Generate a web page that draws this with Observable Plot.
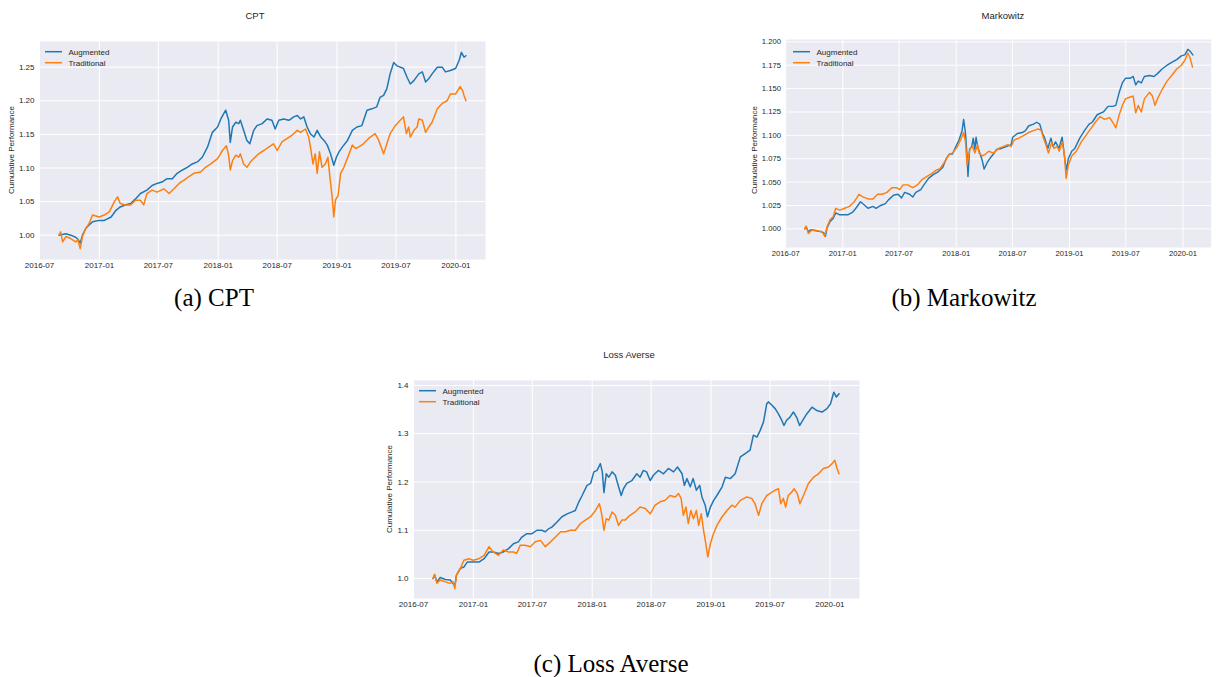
<!DOCTYPE html>
<html><head><meta charset="utf-8">
<script src="https://cdn.jsdelivr.net/npm/d3@7"></script>
<script src="https://cdn.jsdelivr.net/npm/@observablehq/plot@0.6"></script>
<style>
html,body{margin:0;padding:0;background:#fff;}
body{width:1225px;height:677px;overflow:hidden;position:relative;font-family:"Liberation Sans",Arial,sans-serif;}
.panel{position:absolute;}
.ttl{position:absolute;font-size:9.5px;color:#262626;transform:translate(-50%,-50%);white-space:nowrap;line-height:1;}
.ylab{position:absolute;font-size:8px;color:#262626;transform:translate(-50%,-50%) rotate(-90deg);white-space:nowrap;line-height:1;}
.cap{position:absolute;font-family:"Liberation Serif",serif;font-size:25px;color:#000;transform:translate(-50%,-50%);white-space:nowrap;line-height:1;}
.leg{position:absolute;overflow:visible;}
</style></head><body>
<script>
// ---------- tick labels ----------
const xTickDates = ["2016-07-01","2017-01-01","2017-07-01","2018-01-01","2018-07-01","2019-01-01","2019-07-01","2020-01-01"];
const cptYTicks = [1.00,1.05,1.10,1.15,1.20,1.25];
const mkYTicks = [1.000,1.025,1.050,1.075,1.100,1.125,1.150,1.175,1.200];
const laYTicks = [1.0,1.1,1.2,1.3,1.4];
const seriesNames = ["Augmented","Traditional"];
const panelTitles = ["CPT","Markowitz","Loss Averse"];
const captions = ["(a) CPT","(b) Markowitz","(c) Loss Averse"];

// ---------- (a) CPT ----------
const cptAugDates = ["2016-08-30","2016-09-10","2016-09-20","2016-10-05","2016-10-20","2016-10-27","2016-11-03","2016-11-10","2016-11-20","2016-11-30","2016-12-11","2016-12-31","2017-01-16","2017-02-06","2017-02-21","2017-03-06","2017-03-21","2017-04-07","2017-04-22","2017-05-07","2017-05-27","2017-06-12","2017-06-27","2017-07-12","2017-07-28","2017-08-13","2017-08-28","2017-09-13","2017-09-28","2017-10-13","2017-10-29","2017-11-13","2017-11-29","2017-12-14","2017-12-30","2018-01-09","2018-01-24","2018-02-02","2018-02-07","2018-02-14","2018-02-24","2018-03-05","2018-03-10","2018-03-20","2018-03-30","2018-04-08","2018-04-20","2018-04-30","2018-05-16","2018-05-31","2018-06-15","2018-06-25","2018-07-06","2018-07-21","2018-08-06","2018-08-21","2018-09-01","2018-09-11","2018-09-21","2018-10-01","2018-10-11","2018-10-22","2018-11-01","2018-11-12","2018-11-22","2018-12-02","2018-12-12","2018-12-22","2018-12-30","2019-01-07","2019-01-17","2019-02-02","2019-02-17","2019-03-03","2019-03-18","2019-04-03","2019-04-18","2019-05-03","2019-05-13","2019-05-24","2019-06-03","2019-06-13","2019-06-24","2019-07-04","2019-07-14","2019-07-24","2019-08-04","2019-08-14","2019-08-25","2019-09-09","2019-09-20","2019-09-30","2019-10-10","2019-10-20","2019-11-05","2019-11-20","2019-11-30","2019-12-15","2019-12-31","2020-01-11","2020-01-18","2020-01-26","2020-02-01"];
const cptAugValues = [1.000,1.001,1.002,1.000,0.997,0.994,0.988,1.000,1.010,1.015,1.020,1.022,1.022,1.027,1.037,1.042,1.045,1.047,1.054,1.062,1.067,1.074,1.077,1.079,1.084,1.084,1.092,1.097,1.101,1.106,1.109,1.116,1.131,1.153,1.161,1.173,1.186,1.171,1.138,1.161,1.168,1.166,1.171,1.156,1.141,1.136,1.156,1.163,1.166,1.173,1.171,1.158,1.171,1.173,1.171,1.176,1.178,1.173,1.176,1.161,1.151,1.146,1.156,1.146,1.141,1.134,1.121,1.104,1.116,1.124,1.131,1.141,1.156,1.161,1.163,1.186,1.188,1.191,1.205,1.208,1.218,1.240,1.257,1.252,1.250,1.248,1.235,1.225,1.230,1.240,1.243,1.228,1.233,1.240,1.250,1.250,1.243,1.245,1.248,1.260,1.272,1.265,1.267];
const cptTradDates = ["2016-08-30","2016-09-04","2016-09-10","2016-09-20","2016-10-05","2016-10-20","2016-10-27","2016-11-03","2016-11-10","2016-11-20","2016-11-30","2016-12-11","2016-12-31","2017-01-16","2017-02-01","2017-02-16","2017-02-26","2017-03-06","2017-03-21","2017-04-07","2017-04-22","2017-05-07","2017-05-17","2017-05-27","2017-06-12","2017-06-27","2017-07-18","2017-08-03","2017-08-18","2017-09-03","2017-09-18","2017-10-03","2017-10-18","2017-11-08","2017-11-23","2017-12-09","2017-12-30","2018-01-14","2018-01-26","2018-02-02","2018-02-07","2018-02-14","2018-02-24","2018-03-05","2018-03-10","2018-03-20","2018-03-30","2018-04-10","2018-04-20","2018-05-05","2018-05-21","2018-06-05","2018-06-20","2018-07-01","2018-07-16","2018-08-01","2018-08-16","2018-09-01","2018-09-11","2018-09-26","2018-10-06","2018-10-13","2018-10-19","2018-10-26","2018-11-01","2018-11-08","2018-11-16","2018-11-26","2018-12-04","2018-12-10","2018-12-17","2018-12-22","2018-12-27","2019-01-04","2019-01-12","2019-01-22","2019-02-07","2019-02-17","2019-02-27","2019-03-08","2019-03-23","2019-04-08","2019-04-28","2019-05-09","2019-05-24","2019-06-03","2019-06-13","2019-06-29","2019-07-14","2019-07-24","2019-08-02","2019-08-09","2019-08-14","2019-08-25","2019-09-04","2019-09-09","2019-09-20","2019-09-30","2019-10-10","2019-10-20","2019-11-05","2019-11-20","2019-12-05","2019-12-15","2019-12-31","2020-01-14","2020-01-22","2020-01-26","2020-02-01"];
const cptTradValues = [1.000,1.005,0.990,0.998,0.995,0.990,0.993,0.980,0.998,1.010,1.017,1.030,1.027,1.030,1.035,1.050,1.057,1.047,1.045,1.045,1.052,1.052,1.045,1.062,1.067,1.064,1.069,1.062,1.069,1.077,1.082,1.087,1.092,1.094,1.101,1.106,1.114,1.126,1.133,1.119,1.097,1.111,1.119,1.116,1.121,1.106,1.101,1.109,1.114,1.121,1.126,1.131,1.136,1.126,1.139,1.144,1.149,1.156,1.153,1.158,1.146,1.126,1.106,1.121,1.092,1.124,1.101,1.106,1.116,1.087,1.057,1.027,1.052,1.059,1.092,1.101,1.121,1.134,1.129,1.131,1.136,1.144,1.151,1.141,1.121,1.136,1.151,1.163,1.171,1.176,1.151,1.161,1.146,1.156,1.161,1.173,1.171,1.153,1.161,1.168,1.188,1.196,1.200,1.210,1.210,1.221,1.215,1.208,1.200];

// ---------- (b) Markowitz ----------
const mkAugDates = ["2016-08-31","2016-09-05","2016-09-12","2016-09-20","2016-10-06","2016-10-21","2016-10-31","2016-11-06","2016-11-11","2016-11-21","2016-12-01","2016-12-09","2016-12-22","2017-01-02","2017-01-17","2017-02-02","2017-02-12","2017-02-27","2017-03-13","2017-03-23","2017-04-08","2017-04-18","2017-05-03","2017-05-18","2017-05-28","2017-06-13","2017-06-28","2017-07-09","2017-07-19","2017-08-04","2017-08-14","2017-08-24","2017-09-09","2017-09-19","2017-10-04","2017-10-19","2017-11-04","2017-11-19","2017-11-30","2017-12-10","2017-12-20","2017-12-31","2018-01-10","2018-01-20","2018-01-25","2018-01-31","2018-02-05","2018-02-08","2018-02-13","2018-02-20","2018-02-25","2018-03-02","2018-03-06","2018-03-11","2018-03-26","2018-04-01","2018-04-11","2018-04-21","2018-05-01","2018-05-11","2018-05-27","2018-06-11","2018-06-27","2018-07-02","2018-07-17","2018-08-02","2018-08-12","2018-08-22","2018-09-07","2018-09-17","2018-09-27","2018-10-06","2018-10-13","2018-10-23","2018-11-02","2018-11-09","2018-11-17","2018-11-28","2018-12-08","2018-12-13","2018-12-18","2018-12-23","2018-12-28","2019-01-08","2019-01-18","2019-02-03","2019-02-18","2019-03-05","2019-03-15","2019-03-31","2019-04-20","2019-05-05","2019-05-20","2019-05-30","2019-06-10","2019-06-20","2019-06-30","2019-07-15","2019-07-25","2019-08-02","2019-08-10","2019-08-20","2019-08-30","2019-09-15","2019-09-30","2019-10-11","2019-10-26","2019-11-11","2019-11-26","2019-12-12","2019-12-27","2020-01-07","2020-01-17","2020-01-24","2020-02-02"];
const mkAugValues = [1.000,1.002,0.997,0.999,0.998,0.997,0.996,0.992,1.001,1.008,1.011,1.017,1.015,1.015,1.015,1.018,1.022,1.029,1.025,1.022,1.024,1.022,1.025,1.027,1.031,1.036,1.037,1.033,1.039,1.037,1.034,1.039,1.042,1.047,1.054,1.058,1.061,1.066,1.075,1.080,1.080,1.088,1.095,1.105,1.117,1.102,1.078,1.056,1.085,1.088,1.097,1.085,1.098,1.088,1.073,1.064,1.071,1.076,1.080,1.085,1.086,1.088,1.090,1.098,1.102,1.103,1.105,1.110,1.112,1.114,1.112,1.102,1.097,1.086,1.097,1.088,1.093,1.086,1.098,1.085,1.071,1.063,1.075,1.083,1.086,1.097,1.105,1.112,1.114,1.122,1.125,1.131,1.131,1.132,1.146,1.156,1.161,1.161,1.163,1.154,1.158,1.156,1.163,1.164,1.163,1.166,1.171,1.175,1.178,1.181,1.185,1.186,1.192,1.190,1.186];
const mkTradDates = ["2016-08-31","2016-09-05","2016-09-12","2016-09-25","2016-10-11","2016-10-26","2016-11-04","2016-11-11","2016-11-21","2016-12-01","2016-12-09","2016-12-22","2017-01-07","2017-01-22","2017-02-07","2017-02-22","2017-03-08","2017-03-23","2017-04-08","2017-04-23","2017-05-08","2017-05-23","2017-06-08","2017-06-23","2017-07-03","2017-07-14","2017-07-29","2017-08-14","2017-08-29","2017-09-14","2017-09-29","2017-10-14","2017-10-30","2017-11-09","2017-11-24","2017-12-10","2017-12-20","2018-01-05","2018-01-15","2018-01-25","2018-01-31","2018-02-05","2018-02-10","2018-02-15","2018-02-23","2018-03-02","2018-03-11","2018-03-16","2018-03-26","2018-04-06","2018-04-16","2018-05-01","2018-05-17","2018-06-01","2018-06-16","2018-06-27","2018-07-07","2018-07-22","2018-08-07","2018-08-22","2018-09-07","2018-09-22","2018-10-02","2018-10-09","2018-10-17","2018-10-25","2018-11-05","2018-11-12","2018-11-22","2018-11-29","2018-12-08","2018-12-15","2018-12-21","2018-12-28","2019-01-08","2019-01-23","2019-02-08","2019-02-23","2019-03-10","2019-03-25","2019-04-09","2019-04-24","2019-05-10","2019-05-20","2019-05-30","2019-06-10","2019-06-20","2019-06-30","2019-07-15","2019-07-25","2019-08-02","2019-08-10","2019-08-20","2019-08-30","2019-09-15","2019-09-25","2019-10-03","2019-10-11","2019-10-26","2019-11-11","2019-11-26","2019-12-12","2019-12-27","2020-01-07","2020-01-17","2020-01-24","2020-02-01"];
const mkTradValues = [1.000,1.003,0.995,0.999,0.998,0.997,0.992,1.002,1.010,1.013,1.022,1.020,1.022,1.024,1.029,1.037,1.034,1.032,1.032,1.037,1.037,1.039,1.044,1.044,1.042,1.047,1.047,1.044,1.047,1.053,1.056,1.059,1.063,1.064,1.071,1.080,1.081,1.088,1.095,1.103,1.093,1.068,1.078,1.086,1.088,1.081,1.090,1.081,1.078,1.080,1.083,1.081,1.086,1.088,1.090,1.088,1.095,1.097,1.100,1.103,1.105,1.107,1.105,1.097,1.090,1.081,1.093,1.086,1.088,1.083,1.093,1.081,1.054,1.068,1.078,1.083,1.093,1.100,1.107,1.114,1.120,1.117,1.119,1.114,1.108,1.122,1.132,1.139,1.141,1.142,1.124,1.132,1.125,1.139,1.146,1.142,1.132,1.139,1.149,1.158,1.164,1.171,1.175,1.180,1.188,1.183,1.173];

// ---------- (c) Loss Averse ----------
const laAugDates = ["2016-08-30","2016-09-04","2016-09-11","2016-09-21","2016-10-07","2016-10-22","2016-10-30","2016-11-05","2016-11-10","2016-11-22","2016-12-03","2016-12-13","2016-12-31","2017-01-18","2017-02-03","2017-02-18","2017-03-03","2017-03-19","2017-04-03","2017-04-19","2017-05-04","2017-05-19","2017-05-30","2017-06-14","2017-06-30","2017-07-15","2017-07-30","2017-08-10","2017-08-20","2017-08-31","2017-09-15","2017-09-30","2017-10-16","2017-10-31","2017-11-10","2017-11-21","2017-12-01","2017-12-16","2017-12-27","2018-01-06","2018-01-16","2018-01-26","2018-02-01","2018-02-06","2018-02-13","2018-02-21","2018-03-03","2018-03-13","2018-03-23","2018-03-31","2018-04-07","2018-04-17","2018-05-03","2018-05-18","2018-05-28","2018-06-07","2018-06-17","2018-06-28","2018-07-08","2018-07-23","2018-08-08","2018-08-23","2018-09-08","2018-09-20","2018-10-04","2018-10-11","2018-10-19","2018-10-29","2018-11-07","2018-11-17","2018-11-27","2018-12-04","2018-12-14","2018-12-21","2018-12-30","2019-01-09","2019-01-19","2019-02-04","2019-02-14","2019-03-01","2019-03-16","2019-04-01","2019-04-16","2019-05-01","2019-05-11","2019-05-22","2019-06-01","2019-06-11","2019-06-21","2019-06-26","2019-07-07","2019-07-17","2019-07-27","2019-08-06","2019-08-13","2019-08-21","2019-08-31","2019-09-11","2019-09-21","2019-09-30","2019-10-10","2019-10-22","2019-11-07","2019-11-22","2019-12-08","2019-12-23","2020-01-03","2020-01-13","2020-01-21","2020-01-29"];
const laAugValues = [1.000,1.007,0.993,1.002,0.998,0.997,0.990,0.986,1.007,1.021,1.024,1.034,1.034,1.034,1.041,1.055,1.055,1.052,1.055,1.062,1.072,1.076,1.086,1.093,1.093,1.100,1.100,1.097,1.103,1.107,1.117,1.128,1.134,1.138,1.141,1.159,1.172,1.193,1.197,1.221,1.224,1.238,1.221,1.178,1.217,1.210,1.221,1.214,1.190,1.172,1.186,1.197,1.203,1.217,1.210,1.224,1.221,1.203,1.214,1.224,1.217,1.228,1.221,1.231,1.217,1.193,1.207,1.190,1.207,1.183,1.193,1.169,1.152,1.128,1.148,1.162,1.172,1.190,1.210,1.207,1.217,1.252,1.259,1.266,1.297,1.293,1.307,1.324,1.362,1.366,1.359,1.352,1.341,1.328,1.317,1.328,1.334,1.345,1.334,1.317,1.328,1.341,1.355,1.348,1.345,1.352,1.362,1.386,1.376,1.383];
const laTradDates = ["2016-08-30","2016-09-04","2016-09-11","2016-09-21","2016-10-07","2016-10-22","2016-10-30","2016-11-05","2016-11-10","2016-11-22","2016-12-03","2016-12-18","2016-12-31","2017-01-18","2017-02-03","2017-02-18","2017-03-03","2017-03-19","2017-04-03","2017-04-19","2017-05-04","2017-05-14","2017-05-25","2017-06-09","2017-06-25","2017-07-10","2017-07-26","2017-08-10","2017-08-26","2017-09-10","2017-09-26","2017-10-11","2017-10-26","2017-11-10","2017-11-26","2017-12-11","2017-12-27","2018-01-11","2018-01-23","2018-01-30","2018-02-06","2018-02-13","2018-02-21","2018-03-03","2018-03-13","2018-03-23","2018-04-02","2018-04-12","2018-04-27","2018-05-13","2018-05-28","2018-06-13","2018-06-28","2018-07-13","2018-07-29","2018-08-13","2018-08-28","2018-09-13","2018-09-23","2018-10-01","2018-10-08","2018-10-16","2018-10-23","2018-10-31","2018-11-08","2018-11-17","2018-11-24","2018-12-02","2018-12-09","2018-12-16","2018-12-22","2018-12-30","2019-01-07","2019-01-19","2019-02-04","2019-02-19","2019-03-06","2019-03-16","2019-04-01","2019-04-21","2019-05-06","2019-05-16","2019-05-27","2019-06-06","2019-06-21","2019-07-07","2019-07-17","2019-07-27","2019-08-03","2019-08-11","2019-08-18","2019-08-26","2019-09-06","2019-09-13","2019-09-23","2019-10-01","2019-10-12","2019-10-27","2019-11-12","2019-11-27","2019-12-12","2019-12-28","2020-01-08","2020-01-16","2020-01-23","2020-01-29"];
const laTradValues = [1.000,1.009,0.990,0.997,0.993,0.990,0.993,0.979,1.007,1.021,1.038,1.041,1.038,1.041,1.048,1.066,1.055,1.048,1.059,1.055,1.055,1.052,1.069,1.069,1.066,1.076,1.079,1.066,1.076,1.086,1.097,1.097,1.100,1.100,1.114,1.121,1.128,1.141,1.155,1.134,1.100,1.124,1.121,1.138,1.131,1.110,1.121,1.121,1.131,1.138,1.148,1.145,1.134,1.152,1.159,1.162,1.172,1.169,1.176,1.166,1.131,1.148,1.114,1.141,1.124,1.141,1.110,1.134,1.100,1.072,1.045,1.072,1.090,1.110,1.128,1.141,1.152,1.148,1.162,1.169,1.166,1.155,1.131,1.155,1.172,1.179,1.183,1.186,1.155,1.166,1.148,1.172,1.179,1.186,1.176,1.155,1.172,1.197,1.210,1.217,1.228,1.231,1.238,1.245,1.228,1.217];

// ---------- build ----------
const AUG = "#1f77b4", TRAD = "#ff7f0e", TXT = "#262626";
const xDomain = [new Date("2016-07-01"), new Date("2020-04-01")];
const xTicks = xTickDates.map(d => new Date(d));
const toRows = (dates, vals) => dates.map((d, i) => ({date: new Date(d), value: vals[i]}));

const PW = 446, PH = 218; // plot frame size
function addPanel(o) {
  const ML = 39, MT = 41;
  const chart = Plot.plot({
    width: ML + PW + 15, height: MT + PH + 21,
    marginLeft: ML, marginTop: MT, marginRight: 15, marginBottom: 21,
    style: {background: "transparent", fontSize: "8px", fontFamily: "'Liberation Sans', Arial, sans-serif", color: TXT, overflow: "visible"},
    x: {type: "utc", domain: xDomain},
    y: {domain: o.yDomain},
    marks: [
      Plot.frame({fill: "#eaeaf2", stroke: null}),
      Plot.gridX(xTicks, {stroke: "#ffffff", strokeOpacity: 1, strokeWidth: 1}),
      Plot.gridY(o.yTicks, {stroke: "#ffffff", strokeOpacity: 1, strokeWidth: 1}),
      Plot.axisX(xTicks, {tickSize: 0, tickPadding: 3, tickFormat: d3.utcFormat("%Y-%m"), label: null, fill: TXT}),
      Plot.axisY(o.yTicks, {tickSize: 0, tickPadding: 5, tickFormat: d3.format(o.yFmt), label: null, fill: TXT}),
      Plot.line(toRows(o.augDates, o.augValues), {x: "date", y: "value", stroke: AUG, strokeWidth: 1.5}),
      Plot.line(toRows(o.tradDates, o.tradValues), {x: "date", y: "value", stroke: TRAD, strokeWidth: 1.5})
    ]
  });
  const wrap = document.createElement("div");
  wrap.className = "panel";
  wrap.style.left = (o.px - ML) + "px";
  wrap.style.top = (o.py - MT) + "px";
  wrap.appendChild(chart);
  document.body.appendChild(wrap);

  const t = document.createElement("div");
  t.className = "ttl"; t.textContent = o.title;
  t.style.left = (o.px + 216) + "px"; t.style.top = (o.py - 25) + "px";
  document.body.appendChild(t);

  const yl = document.createElement("div");
  yl.className = "ylab"; yl.textContent = "Cumulative Performance";
  yl.style.left = (o.px - o.ylabOff) + "px"; yl.style.top = (o.py + PH / 2) + "px";
  document.body.appendChild(yl);

  const ns = "http://www.w3.org/2000/svg";
  const lg = document.createElementNS(ns, "svg");
  lg.setAttribute("class", "leg"); lg.setAttribute("width", 100); lg.setAttribute("height", 30);
  lg.style.left = o.px + "px"; lg.style.top = o.py + "px";
  [[seriesNames[0], AUG, 10.7], [seriesNames[1], TRAD, 21.7]].forEach(([lab, col, y]) => {
    const ln = document.createElementNS(ns, "line");
    ln.setAttribute("x1", 6); ln.setAttribute("x2", 23); ln.setAttribute("y1", y); ln.setAttribute("y2", y);
    ln.setAttribute("stroke", col); ln.setAttribute("stroke-width", 1.5);
    lg.appendChild(ln);
    const tx = document.createElementNS(ns, "text");
    tx.setAttribute("x", 29.5); tx.setAttribute("y", y); tx.setAttribute("dy", "0.35em");
    tx.setAttribute("font-size", 8); tx.setAttribute("fill", TXT);
    tx.setAttribute("font-family", "'Liberation Sans', Arial, sans-serif");
    tx.textContent = lab;
    lg.appendChild(tx);
  });
  document.body.appendChild(lg);

  const c = document.createElement("div");
  c.className = "cap"; c.textContent = o.caption;
  c.style.left = o.cx + "px"; c.style.top = o.cy + "px";
  document.body.appendChild(c);
}

addPanel({px: 39, py: 41, yDomain: [0.9638, 1.2882], yTicks: cptYTicks, yFmt: ".2f", title: panelTitles[0], ylabOff: 27.5,
  augDates: cptAugDates, augValues: cptAugValues, tradDates: cptTradDates, tradValues: cptTradValues,
  caption: captions[0], cx: 214, cy: 297});
addPanel({px: 787, py: 41, yDomain: [0.980, 1.2024], yTicks: mkYTicks, yFmt: ".3f", title: panelTitles[1], ylabOff: 32,
  augDates: mkAugDates, augValues: mkAugValues, tradDates: mkTradDates, tradValues: mkTradValues,
  caption: captions[1], cx: 964, cy: 297});
addPanel({px: 413, py: 380, yDomain: [0.9586, 1.4103], yTicks: laYTicks, yFmt: ".1f", title: panelTitles[2], ylabOff: 23.5,
  augDates: laAugDates, augValues: laAugValues, tradDates: laTradDates, tradValues: laTradValues,
  caption: captions[2], cx: 611, cy: 663});
</script>
</body></html>
